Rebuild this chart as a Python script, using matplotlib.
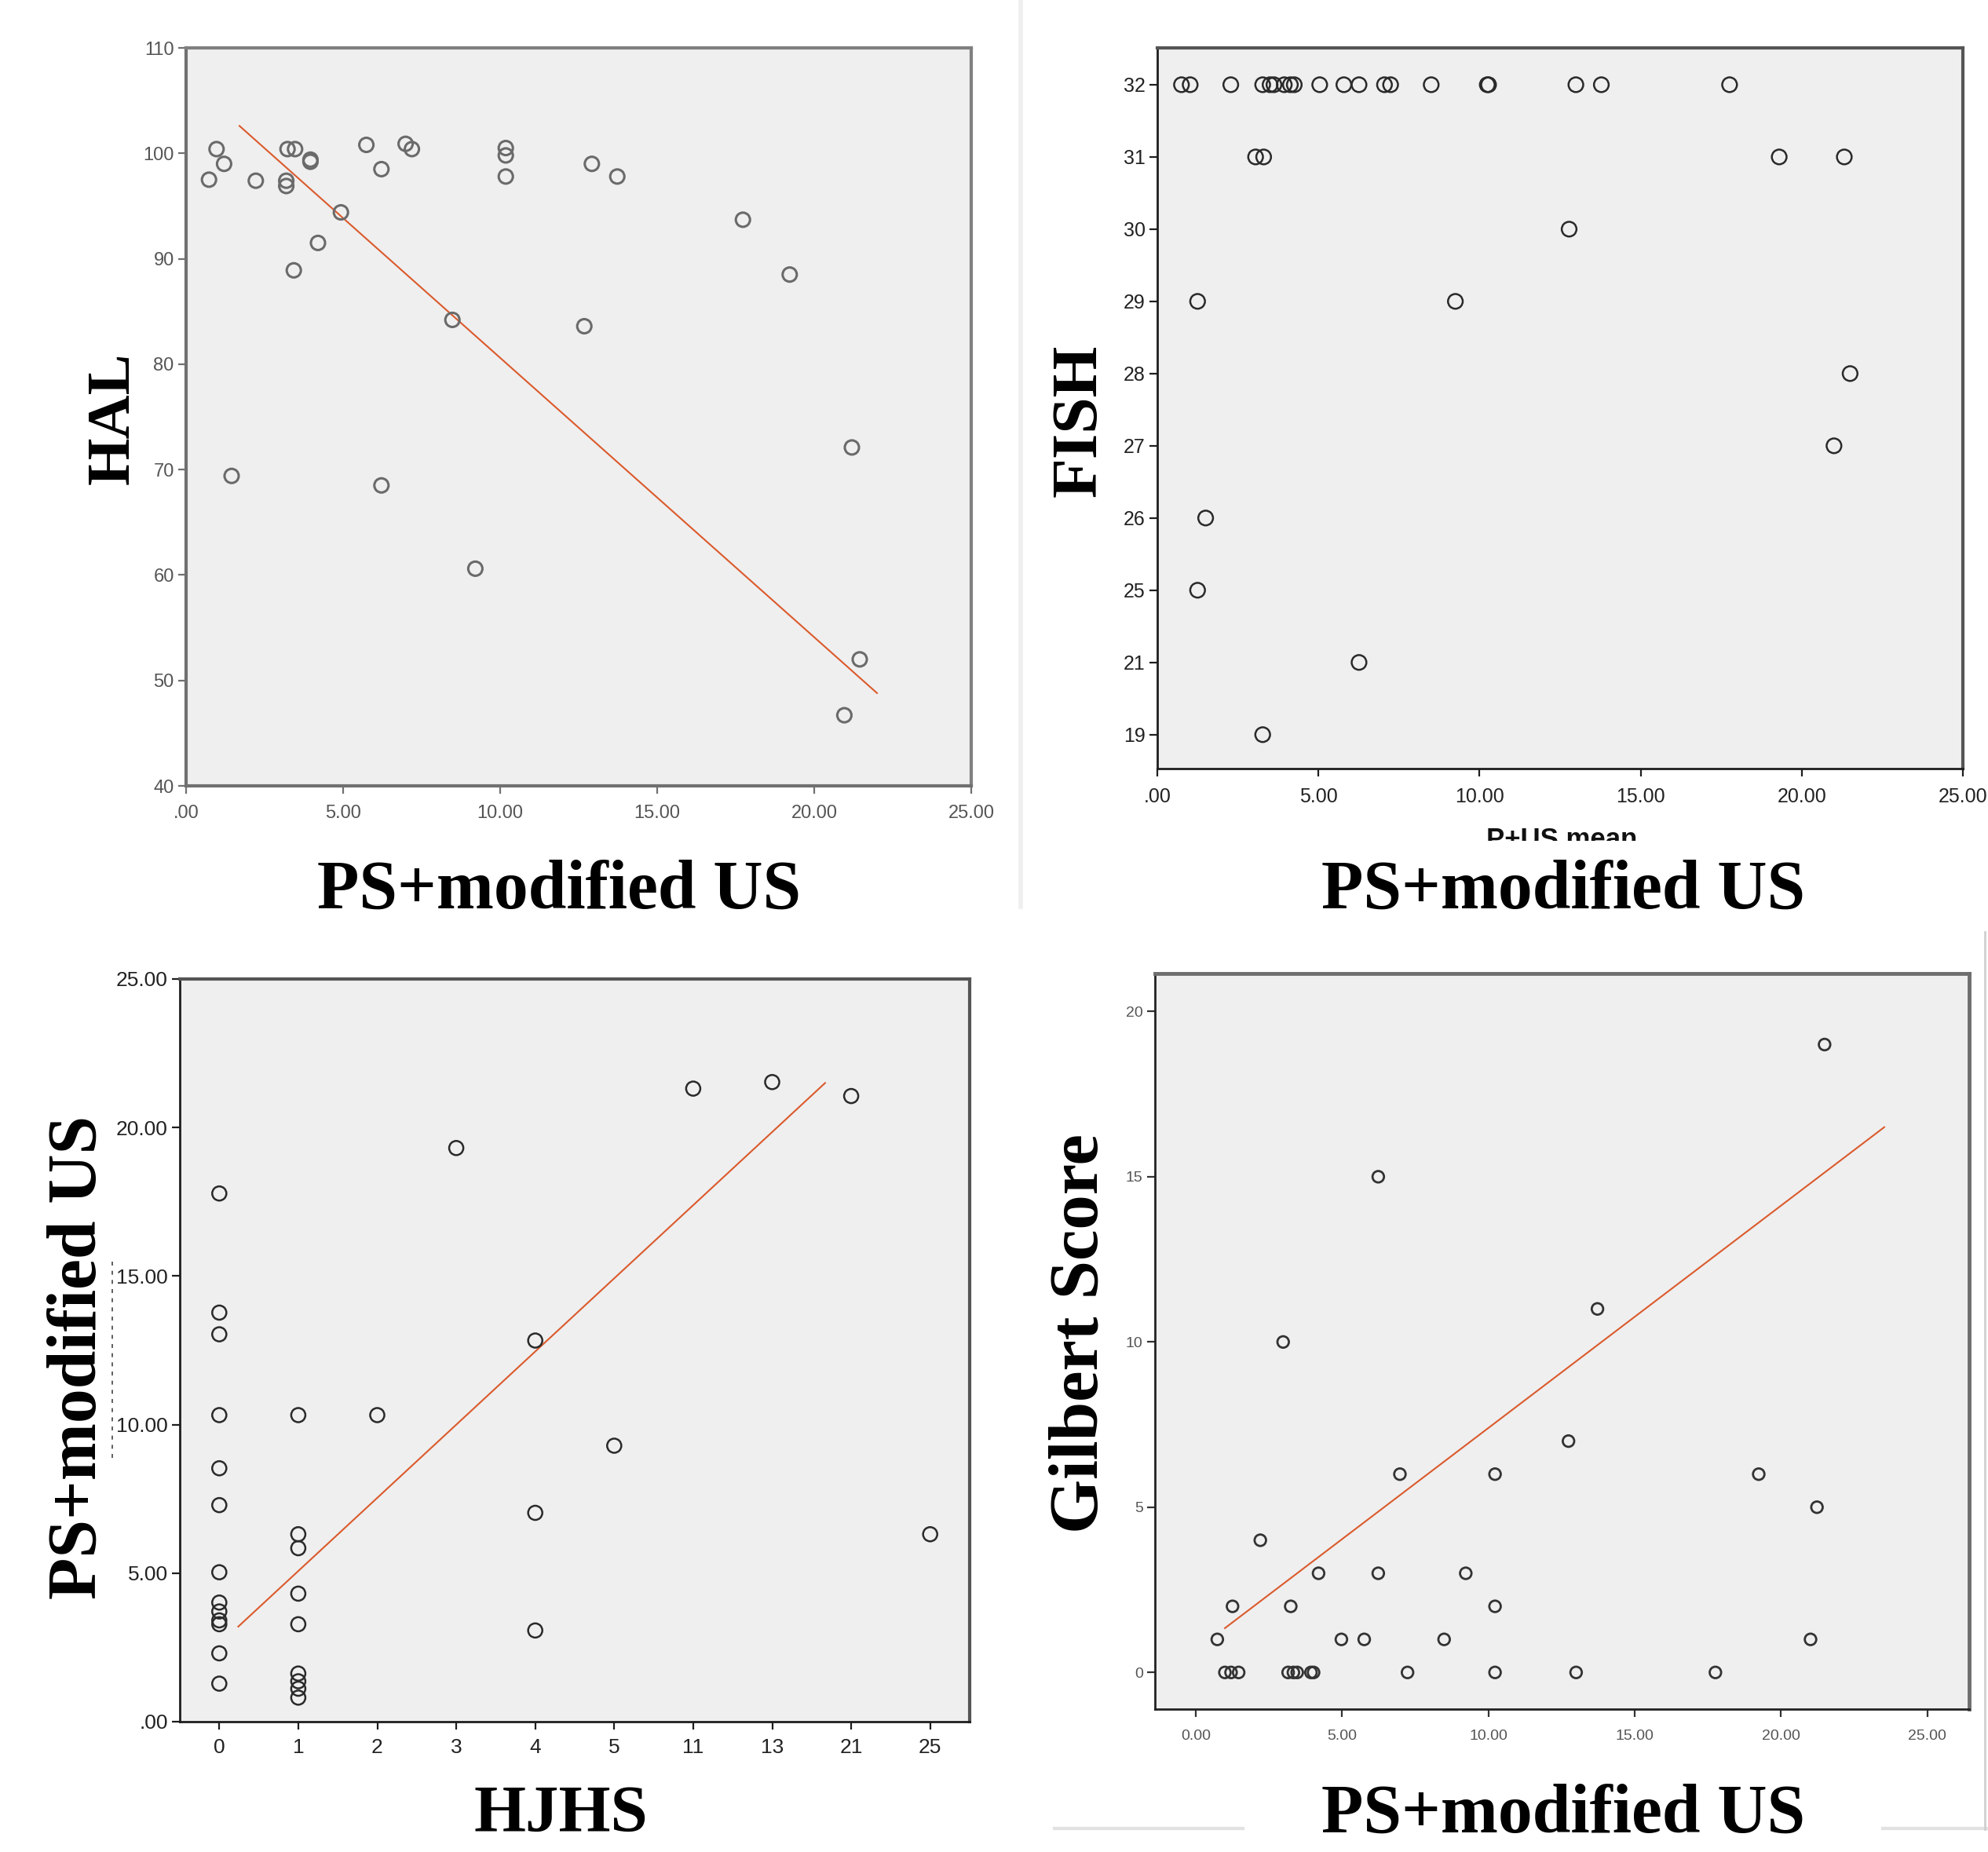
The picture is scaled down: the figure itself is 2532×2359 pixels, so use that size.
import matplotlib
matplotlib.use("Agg")
import matplotlib.pyplot as plt
from matplotlib import font_manager
from matplotlib.patches import Rectangle
from matplotlib.lines import Line2D

# ---- data -------------------------------------------------------------------
# top-left: PS+modified US vs HAL
hal_x = [0.73, 0.97, 1.21, 1.45, 2.22, 3.23, 3.47, 3.19, 3.19, 3.43, 3.96, 3.96,
         4.20, 4.93, 5.74, 6.22, 6.22, 6.99, 7.19, 8.48, 9.21, 10.18, 10.18,
         10.18, 12.68, 12.92, 13.73, 17.73, 19.22, 21.20, 20.96, 21.45]
hal_y = [97.5, 100.4, 99.0, 69.4, 97.4, 100.4, 100.4, 97.4, 96.9, 88.9, 99.4,
         99.2, 91.5, 94.4, 100.8, 98.5, 68.5, 100.9, 100.4, 84.2, 60.6, 100.5,
         99.8, 97.8, 83.6, 99.0, 97.8, 93.7, 88.5, 72.1, 46.7, 52.0]
hal_fit_x = [1.70, 22.0]
hal_fit_y = [102.6, 48.8]

# top-right: PS+modified US vs FISH (FISH axis is categorical in SPSS)
fish_levels = [19, 21, 25, 26, 27, 28, 29, 30, 31, 32]
fish_x = [0.75, 1.02, 2.28, 3.27, 3.50, 3.62, 3.94, 4.13, 4.25, 5.04, 5.79,
          6.26, 7.05, 7.24, 8.50, 10.24, 10.28, 12.99, 13.78, 17.76,
          3.05, 3.30, 19.30, 21.32,
          12.78, 1.25, 9.25, 21.50, 21.00, 1.50, 1.25, 6.26, 3.27]
fish_y = [32] * 20 + [31] * 4 + [30, 29, 29, 28, 27, 26, 25, 21, 19]

# bottom-left: HJHS (categorical) vs PS+modified US
hjhs_levels = [0, 1, 2, 3, 4, 5, 11, 13, 21, 25]
hjhs_x = [0] * 13 + [1] * 9 + [2, 3, 4, 4, 4, 5, 11, 13, 21, 25]
hjhs_y = [17.78, 13.77, 13.04, 10.32, 8.53, 7.29, 5.03, 4.01, 3.71, 3.41, 3.28,
          2.30, 1.28,
          10.32, 6.31, 5.84, 4.31, 3.28, 1.62, 1.36, 1.11, 0.81,
          10.32, 19.31, 12.83, 7.03, 3.07, 9.29, 21.31, 21.53, 21.06, 6.31]
hjhs_fit_pos = [0.24, 7.67]
hjhs_fit_y = [3.2, 21.5]

# bottom-right: PS+modified US vs Gilbert Score
gil_x = [0.74, 1.00, 1.21, 1.47, 1.26, 2.21, 2.99, 3.25, 3.16, 3.34, 3.47, 3.94,
         4.03, 4.20, 4.98, 5.76, 6.24, 6.24, 6.98, 7.24, 8.49, 9.23, 10.23,
         10.23, 10.23, 12.74, 13.00, 13.73, 17.76, 19.24, 21.01, 21.23, 21.49]
gil_y = [1, 0, 0, 0, 2, 4, 10, 2, 0, 0, 0, 0, 0, 3, 1, 1, 3, 15, 6, 0, 1, 3, 6,
         2, 0, 7, 0, 11, 0, 6, 1, 5, 19]
gil_fit_x = [1.0, 23.53]
gil_fit_y = [1.34, 16.5]

ps_ticks = [0, 5, 10, 15, 20, 25]
ps_labels = [".00", "5.00", "10.00", "15.00", "20.00", "25.00"]

# ---- layout ------------------------------------------------------------------
W, H = 2532, 2359
fig = plt.figure(figsize=(W / 100, H / 100), dpi=100)
fig.patch.set_facecolor("white")

have = {f.name for f in font_manager.fontManager.ttflist}
TICKFONT = "Liberation Sans Narrow" if "Liberation Sans Narrow" in have else "Liberation Sans"
SERIF = "Liberation Serif"
FIT = "#db5a2c"
BG = "#efefef"


def px_axes(l, t, r, b):
    return fig.add_axes([l / W, 1 - b / H, (r - l) / W, (b - t) / H])


def ftext(x, y, s, **kw):
    return fig.text(x / W, 1 - y / H, s, **kw)


def style(ax, lb_col, tr_col, lb_w, tr_w, tick_col, lab_col, size):
    ax.set_facecolor(BG)
    for side in ("left", "bottom"):
        ax.spines[side].set_color(lb_col)
        ax.spines[side].set_linewidth(lb_w)
    for side in ("top", "right"):
        ax.spines[side].set_color(tr_col)
        ax.spines[side].set_linewidth(tr_w)
    ax.tick_params(direction="out", length=7, width=1.6, color=tick_col,
                   labelcolor=lab_col, labelsize=size, pad=4)
    for lab in ax.get_xticklabels() + ax.get_yticklabels():
        lab.set_fontfamily(TICKFONT)


# ---- top-left: HAL -------------------------------------------------------------
ax1 = px_axes(237, 61, 1237, 1001)
ax1.scatter(hal_x, hal_y, s=13 ** 2, facecolors="none", edgecolors="#6a6a6a",
            linewidths=2.2, zorder=3)
ax1.plot(hal_fit_x, hal_fit_y, color=FIT, lw=1.5, zorder=2)
ax1.set_xlim(0, 25)
ax1.set_ylim(40, 110)
ax1.set_xticks(ps_ticks, ps_labels)
ax1.set_yticks(range(40, 111, 10))
style(ax1, "#707070", "#808080", 3.0, 3.0, "#707070", "#555555", 17)
ax1.tick_params(axis="x", pad=10)

# ---- top-right: FISH -----------------------------------------------------------
ax2 = px_axes(1474, 61, 2500, 979)
ax2.scatter(fish_x, [fish_levels.index(v) for v in fish_y], s=13.5 ** 2,
            facecolors="none", edgecolors="#2a2a2a", linewidths=1.8, zorder=3)
ax2.set_xlim(0, 25)
ax2.set_ylim(-0.47, 9.51)
ax2.set_xticks(ps_ticks, ps_labels)
ax2.set_yticks(range(len(fish_levels)), [str(v) for v in fish_levels])
style(ax2, "#1e1e1e", "#555555", 2.0, 3.0, "#1e1e1e", "#222222", 18)
ax2.tick_params(axis="x", pad=10)

# ---- bottom-left: HJHS ---------------------------------------------------------
ax3 = px_axes(229, 1247, 1235, 2193)
ax3.scatter([hjhs_levels.index(v) for v in hjhs_x], hjhs_y, s=13 ** 2,
            facecolors="none", edgecolors="#2a2a2a", linewidths=1.8, zorder=3)
ax3.plot(hjhs_fit_pos, hjhs_fit_y, color=FIT, lw=1.5, zorder=2)
ax3.set_xlim(-0.5, 9.5)
ax3.set_ylim(0, 25)
ax3.set_xticks(range(len(hjhs_levels)), [str(v) for v in hjhs_levels])
ax3.set_yticks(ps_ticks, ps_labels)
style(ax3, "#1e1e1e", "#555555", 2.0, 3.0, "#1e1e1e", "#222222", 19)
ax3.tick_params(axis="x", pad=8)

# ---- bottom-right: Gilbert -----------------------------------------------------
ax4 = px_axes(1471, 1240, 2508, 2177)
ax4.scatter(gil_x, gil_y, s=10.5 ** 2, facecolors="none", edgecolors="#333333",
            linewidths=2.0, zorder=3)
ax4.plot(gil_fit_x, gil_fit_y, color=FIT, lw=1.5, zorder=2)
ax4.set_xlim(-1.39, 26.43)
ax4.set_ylim(-1.11, 21.15)
ax4.set_xticks(ps_ticks, ["0.00", "5.00", "10.00", "15.00", "20.00", "25.00"])
ax4.set_yticks([0, 5, 10, 15, 20])
style(ax4, "#222222", "#6e6e6e", 2.0, 3.5, "#333333", "#555555", 14)
ax4.tick_params(axis="x", pad=12)

# ---- big serif axis titles (pasted onto the figure in the original) -----------
big = dict(fontfamily=SERIF, fontweight="bold", color="black", zorder=6)
ftext(145, 533, "HAL", rotation=90, ha="center", va="center", fontsize=56, **big)
ftext(712, 1135, "PS+modified US", ha="center", va="center", fontsize=63, **big)
ftext(1376, 536, "FISH", rotation=90, ha="center", va="center", fontsize=60, **big)
ftext(1991, 1135, "PS+modified US", ha="center", va="center", fontsize=63, **big)
ftext(100, 1729, "PS+modified US", rotation=90, ha="center", va="center",
      fontsize=63, **big)
ftext(714, 2312, "HJHS", ha="center", va="center", fontsize=61, **big)
ftext(1376, 1699, "Gilbert Score", rotation=90, ha="center", va="center",
      fontsize=64, **big)
ftext(1991, 2312, "PS+modified US", ha="center", va="center", fontsize=63, **big)

# original SPSS axis title peeking out under the FISH plot, cut off
ftext(1989, 1053, "P+US mean", ha="center", va="top", fontsize=25,
      fontfamily="Liberation Sans", fontweight="bold", color="#111111", zorder=4)
fig.patches.append(Rectangle((1700 / W, 1 - 1200 / H), 600 / W, (1200 - 1071) / H,
                             transform=fig.transFigure, facecolor="white",
                             edgecolor="none", zorder=5))

# faint separators / scan artefacts
fig.add_artist(Line2D([1300 / W, 1300 / W], [1, 1 - 1155 / H], color="#efefef",
                      lw=4, transform=fig.transFigure, zorder=1))
fig.add_artist(Line2D([1343 / W, 1583 / W], [1 - 2329 / H] * 2, color="#e2e2e2",
                      lw=3, transform=fig.transFigure, zorder=1))
fig.add_artist(Line2D([2398 / W, 2532 / W], [1 - 2329 / H] * 2, color="#e2e2e2",
                      lw=3, transform=fig.transFigure, zorder=1))
fig.add_artist(Line2D([2528 / W, 2528 / W], [1 - 1187 / H, 1 - 2330 / H],
                      color="#d0d0d0", lw=2, transform=fig.transFigure, zorder=1))
fig.add_artist(Line2D([143 / W, 143 / W], [1 - 1607 / H, 1 - 1857 / H],
                      color="#444444", lw=1.2, ls=(0, (3, 4)),
                      transform=fig.transFigure, zorder=1))

fig.savefig("out.png", dpi=100)
